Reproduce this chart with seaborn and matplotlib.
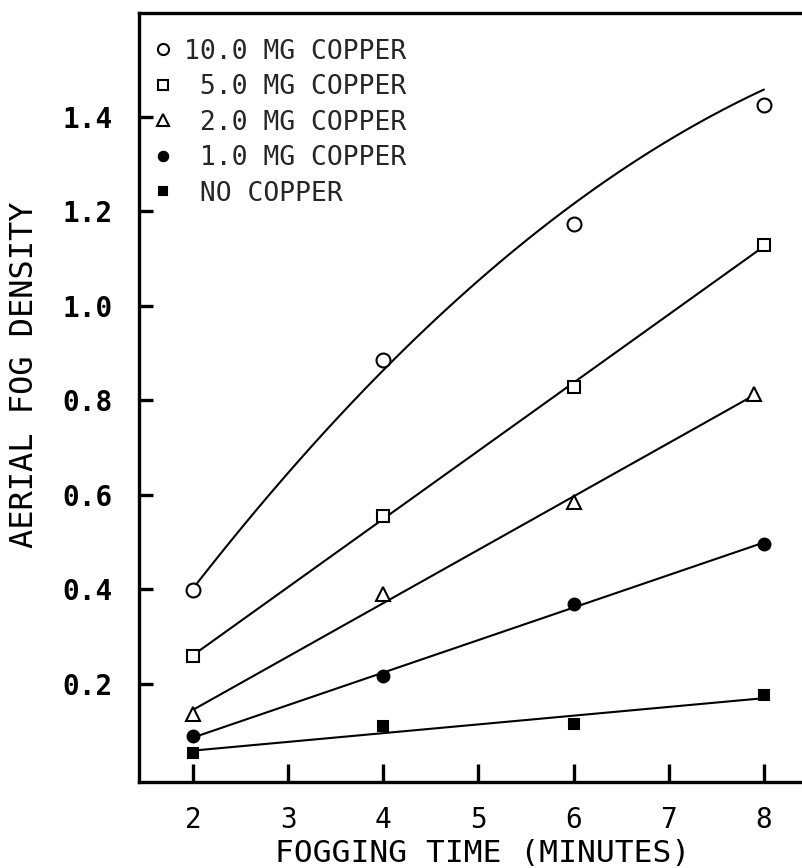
import matplotlib
matplotlib.use("Agg")
import matplotlib.pyplot as plt
import seaborn as sns

# ---- data ----
time_min = [2, 4, 6, 8]
time_2mg = [2, 4, 6, 7.9]
cu_10 = [0.398, 0.886, 1.174, 1.425]
cu_5 = [0.260, 0.555, 0.829, 1.130]
cu_2 = [0.136, 0.391, 0.585, 0.813]
cu_1 = [0.089, 0.217, 0.369, 0.497]
cu_0 = [0.054, 0.112, 0.116, 0.176]
# smooth curve drawn through the 10 mg series
curve_10_x = [2, 4, 6, 8]
curve_10_y = [0.40, 0.87, 1.21, 1.46]

labels = ["10.0 MG COPPER", " 5.0 MG COPPER", " 2.0 MG COPPER",
          " 1.0 MG COPPER", " NO COPPER"]
xticks = [2, 3, 4, 5, 6, 7, 8]
yticks = [0.2, 0.4, 0.6, 0.8, 1.0, 1.2, 1.4]
ytick_labels = ["0.2", "0.4", "0.6", "0.8", "1.0", "1.2", "1.4"]
xlabel = "FOGGING TIME (MINUTES)"
ylabel = "AERIAL FOG DENSITY"

sns.set_style("ticks")
plt.rcParams["font.family"] = ["DejaVu Sans Mono", "DejaVu Sans"]

fig = plt.figure(figsize=(8.02, 8.68), dpi=100)
ax = fig.add_axes([139 / 802, 86 / 868, 1 - 139 / 802, (782 - 12.5) / 868])

ink = "black"
line_kws = dict(lw=1.5, color=ink)

# fitted lines via seaborn
sns.regplot(x=curve_10_x, y=curve_10_y, order=2, scatter=False, ci=None,
            truncate=True, line_kws=line_kws, ax=ax)
for xs, ys in [(time_min, cu_5), (time_2mg, cu_2), (time_min, cu_1), (time_min, cu_0)]:
    sns.regplot(x=xs, y=ys, order=1, scatter=False, ci=None,
                truncate=True, line_kws=line_kws, ax=ax)

# markers
series = [
    (time_min, cu_10, "o", "white", 10),
    (time_min, cu_5, "s", "white", 8.5),
    (time_2mg, cu_2, "^", "white", 10),
    (time_min, cu_1, "o", ink, 8.5),
    (time_min, cu_0, "s", ink, 7.5),
]
handles = []
for (xs, ys, m, fc, ms), lab in zip(series, labels):
    h, = ax.plot(xs, ys, linestyle="none", marker=m, markersize=ms,
                 markerfacecolor=fc, markeredgecolor=ink, markeredgewidth=1.5,
                 label=lab, zorder=5)
    handles.append(h)

leg = ax.legend(handles=handles, labels=labels, loc="upper left",
                bbox_to_anchor=(-0.008, 0.99), frameon=False,
                prop={"family": "DejaVu Sans Mono", "size": 19},
                handlelength=0.8, handletextpad=0.4, labelspacing=0.36,
                borderaxespad=0.3, markerscale=0.8)

ax.set_xlim(1.433, 8.40)
ax.set_ylim(-0.0074, 1.621)
ax.set_xticks(xticks)
ax.set_xticklabels([str(t) for t in xticks])
ax.set_yticks(yticks)
ax.set_yticklabels(ytick_labels)

for side in ["left", "bottom", "top"]:
    ax.spines[side].set_linewidth(2.4)
    ax.spines[side].set_color(ink)
ax.spines["right"].set_visible(False)

ax.tick_params(axis="x", direction="in", length=13, width=2.4, pad=17,
               labelsize=20, colors=ink, top=False)
ax.tick_params(axis="y", direction="in", length=10, width=2.4, pad=19,
               labelsize=20, colors=ink, right=False)
for t in ax.get_yticklabels():
    t.set_fontweight("bold")

ax.set_xlabel(xlabel, fontsize=22.5, color=ink)
ax.set_ylabel(ylabel, fontsize=23, color=ink)
ax.xaxis.set_label_coords(0.519, -0.074)
ax.yaxis.set_label_coords(-0.150, 0.529)

fig.savefig("out.png", dpi=100, facecolor="white")
